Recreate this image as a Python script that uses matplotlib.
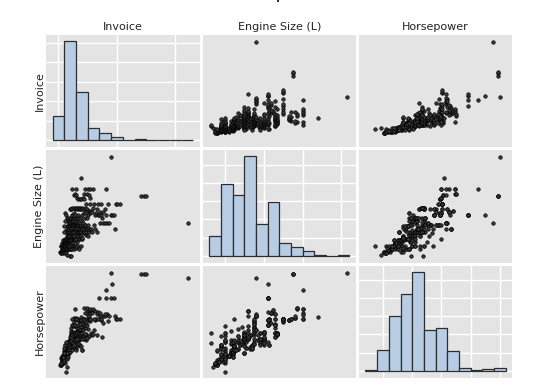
import numpy as np
import matplotlib
matplotlib.use("Agg")
import matplotlib.pyplot as plt
from matplotlib.ticker import MultipleLocator
from matplotlib.font_manager import FontProperties

# values (one entry per car, same order in all three lists)
invoice = [
    9900, 10100, 10300, 10600, 11300, 11900, 12200, 12600, 13200, 13800,
    14500, 15200, 16100, 17300, 17600, 18800, 22200, 23800, 10800, 11200,
    11600, 12100, 12400, 12800, 13100, 13400, 13500, 13700, 14000, 14200,
    14500, 14900, 15100, 15300, 15600, 15900, 16200, 16500, 16700, 16900,
    17200, 17600, 17900, 18000, 18400, 18700, 19100, 19500, 19700, 19900,
    20300, 20700, 21100, 21400, 21600, 22100, 22600, 23100, 23700, 24300,
    24900, 25600, 26400, 26900, 27800, 28600, 29400, 30200, 31300, 32600,
    34100, 35900, 13900, 14800, 15500, 16100, 16700, 17300, 17800, 18300,
    18800, 19300, 19600, 19800, 20400, 20900, 21200, 21500, 22000, 22600,
    23200, 23800, 24000, 24500, 25100, 25800, 26500, 26900, 27200, 28000,
    28900, 29200, 29700, 30600, 31600, 32700, 33200, 33900, 35200, 36600,
    37400, 38200, 40100, 42300, 45200, 16900, 17500, 18100, 18600, 19200,
    19700, 19800, 20200, 20800, 21000, 21300, 21900, 22000, 22400, 22900,
    23400, 23900, 24200, 24500, 25000, 25300, 25600, 26100, 26400, 26700,
    27200, 27800, 28300, 28600, 28900, 29400, 29800, 30000, 30600, 31000,
    31100, 31700, 32200, 32800, 33300, 33500, 33900, 34500, 35000, 35600,
    36200, 36800, 37000, 37400, 38000, 38600, 39300, 40000, 40700, 41500,
    42000, 42300, 43200, 44100, 45000, 46000, 47100, 48300, 49600, 51000,
    52700, 54500, 57000, 80400, 17900, 18700, 19500, 20300, 21100, 21800,
    22600, 23300, 24100, 24900, 25700, 26500, 27300, 28100, 28900, 29800,
    30700, 31600, 32600, 33700, 34900, 36100, 37500, 39000, 41200, 43800,
    61000, 63300, 64500, 67100, 70000, 72200, 22500, 23000, 23400, 24300,
    25200, 26100, 26900, 27700, 28400, 29200, 30000, 30800, 31600, 32400,
    33200, 34000, 34800, 35600, 36400, 37300, 38200, 39100, 40000, 41000,
    42000, 43000, 44000, 45100, 46200, 47300, 48400, 49600, 50900, 52300,
    53800, 55400, 57000, 58700, 59100, 60500, 62400, 64400, 66600, 69000,
    75400, 76400, 78900, 27300, 29000, 30500, 31300, 33000, 35500, 36000,
    37000, 38500, 39800, 40500, 42000, 43000, 44500, 45000, 47000, 47500,
    48000, 48500, 52000, 53000, 58000, 62000, 69000, 71000, 74500, 80900,
    83000, 87000, 112700, 117800, 119200, 173560, 24500, 30000, 15800, 16400,
    17200, 14300, 15000,
]
engine_size = [
    1.6, 1.5, 1.6, 1.6, 1.5, 1.7, 1.6, 1.6, 1.7, 1.5,
    1.7, 1.6, 1.5, 1.6, 2.0, 1.4, 1.3, 1.3, 2.0, 2.0,
    1.8, 2.0, 2.2, 1.8, 2.0, 2.2, 1.9, 1.8, 2.0, 2.0,
    2.2, 1.8, 2.3, 2.0, 2.2, 1.8, 2.0, 2.3, 1.8, 2.0,
    1.8, 2.3, 2.2, 2.0, 2.2, 1.8, 2.3, 2.0, 2.3, 1.8,
    2.0, 2.3, 1.8, 2.0, 2.0, 2.3, 1.8, 2.0, 1.8, 2.3,
    1.8, 2.0, 2.3, 2.0, 1.8, 2.0, 1.9, 2.0, 2.3, 2.0,
    1.8, 2.0, 2.4, 2.4, 2.5, 2.4, 2.4, 2.5, 2.4, 2.7,
    2.5, 2.4, 2.4, 2.7, 2.5, 2.4, 2.7, 2.7, 2.5, 2.4,
    2.8, 2.5, 2.4, 2.7, 2.5, 2.5, 2.8, 2.5, 2.5, 2.7,
    2.5, 2.4, 2.6, 2.5, 2.8, 2.7, 2.9, 2.5, 2.5, 2.7,
    2.5, 2.6, 2.9, 2.8, 2.7, 3.0, 3.1, 3.0, 3.4, 3.0,
    3.1, 3.4, 3.4, 3.0, 3.3, 3.3, 3.5, 3.1, 3.0, 3.4,
    3.5, 3.3, 3.5, 3.0, 3.5, 3.0, 3.4, 3.5, 3.0, 3.3,
    3.0, 3.5, 3.5, 3.2, 3.3, 3.5, 3.5, 3.0, 3.2, 3.0,
    3.5, 3.3, 3.0, 3.5, 3.2, 3.5, 3.0, 3.5, 3.2, 3.0,
    3.5, 3.0, 3.4, 3.3, 3.2, 3.0, 3.5, 3.0, 3.2, 3.5,
    3.5, 3.2, 3.0, 3.2, 3.5, 3.2, 3.0, 3.2, 3.2, 3.0,
    3.5, 3.2, 3.0, 3.2, 3.8, 4.0, 3.8, 4.0, 3.8, 4.0,
    3.7, 3.8, 4.0, 3.8, 4.0, 3.8, 4.0, 3.7, 3.8, 4.0,
    3.8, 4.0, 3.7, 4.0, 3.6, 4.0, 3.8, 3.6, 4.0, 4.0,
    3.6, 4.0, 3.6, 3.6, 3.6, 3.6, 4.6, 4.6, 4.6, 4.2,
    4.7, 4.2, 4.7, 4.3, 4.6, 4.2, 4.7, 4.6, 4.7, 4.2,
    4.6, 4.7, 4.6, 4.7, 4.6, 4.2, 4.7, 4.6, 4.3, 4.6,
    4.7, 4.3, 4.6, 4.2, 4.5, 4.4, 4.3, 4.5, 4.4, 4.7,
    4.2, 4.3, 4.6, 4.2, 4.2, 4.4, 4.2, 4.4, 4.6, 4.2,
    4.2, 4.2, 4.2, 5.6, 5.7, 5.6, 5.4, 5.3, 5.3, 6.8,
    5.3, 5.4, 5.7, 5.3, 6.0, 5.0, 5.7, 6.0, 5.6, 5.4,
    5.0, 6.0, 6.0, 5.0, 5.0, 5.0, 6.0, 5.0, 8.3, 5.0,
    5.0, 5.0, 5.5, 5.5, 5.5, 3.6, 6.0, 6.0, 3.8, 4.3,
    4.2, 3.0, 3.4,
]
horsepower = [
    103, 108, 104, 103, 108, 117, 124, 115, 127, 110,
    117, 163, 110, 168, 73, 93, 197, 238, 132, 110,
    126, 130, 140, 130, 138, 140, 115, 130, 145, 120,
    140, 130, 150, 148, 140, 142, 138, 160, 150, 160,
    150, 155, 145, 130, 143, 180, 160, 165, 165, 170,
    150, 155, 180, 200, 175, 210, 190, 200, 170, 192,
    225, 240, 197, 271, 189, 210, 170, 240, 250, 210,
    189, 227, 138, 150, 165, 157, 160, 175, 150, 170,
    165, 160, 138, 200, 165, 157, 170, 200, 175, 160,
    190, 184, 173, 200, 165, 184, 193, 180, 192, 228,
    300, 200, 168, 184, 190, 210, 194, 208, 184, 228,
    168, 168, 268, 210, 258, 155, 175, 155, 180, 201,
    175, 170, 185, 200, 170, 180, 194, 200, 210, 185,
    250, 230, 232, 240, 200, 190, 190, 192, 182, 230,
    210, 287, 240, 215, 225, 265, 215, 220, 270, 245,
    245, 230, 215, 260, 215, 290, 225, 280, 220, 225,
    265, 225, 185, 230, 255, 220, 280, 225, 215, 290,
    260, 221, 235, 333, 300, 221, 225, 333, 240, 232,
    255, 333, 232, 315, 193, 190, 200, 195, 205, 210,
    210, 200, 210, 240, 195, 215, 245, 210, 240, 210,
    215, 245, 232, 235, 255, 245, 215, 255, 217, 217,
    315, 224, 315, 315, 320, 315, 224, 260, 224, 275,
    230, 275, 235, 190, 239, 275, 235, 302, 240, 275,
    239, 240, 280, 235, 239, 294, 240, 302, 300, 275,
    235, 300, 275, 294, 340, 325, 290, 340, 325, 235,
    294, 300, 320, 330, 390, 325, 294, 282, 320, 390,
    390, 450, 390, 305, 345, 305, 300, 295, 295, 310,
    295, 300, 350, 295, 325, 288, 350, 316, 315, 300,
    302, 345, 345, 302, 302, 302, 425, 292, 500, 302,
    302, 302, 493, 493, 493, 477, 300, 300, 190, 190,
    202, 155, 175,
]
assert len(invoice) == len(engine_size) == len(horsepower)

labels = ["Invoice", "Engine Size (L)", "Horsepower"]

# histogram bins and counts
inv_bins = np.arange(0, 180001, 15000)
eng_bins = np.round(np.arange(1.2, 8.41, 0.6), 1)
hp_bins = np.arange(40, 521, 40)
inv_counts = [52, 218, 105, 26, 15, 7, 1, 3, 0, 0, 0, 1]
eng_counts = [23, 84, 71, 117, 37, 63, 15, 10, 6, 1, 0, 1]
hp_counts = [1, 25, 65, 90, 116, 48, 50, 23, 3, 1, 2, 4]

data = [np.array(invoice), np.array(engine_size), np.array(horsepower)]
bins = [inv_bins, eng_bins, hp_bins]
counts = [inv_counts, eng_counts, hp_counts]

# axis ranges: columns (x) and rows (y)
col_lims = [(-8500, 189000), (0.88, 8.75), (18, 541)]
row_lims = [(-15300, 185500), (0.81, 8.77), (46, 529)]
grid_x = [[7500, 82500, 157500], [2, 4, 6, 8], [100, 200, 300, 400, 500]]
grid_y = [10, 5, 5]

W, H = 537, 390
fig = plt.figure(figsize=(W / 100, H / 100), dpi=100)

col_px = [(46, 200), (203, 356), (359, 512)]
row_px = [(35, 147), (150, 263), (266, 378)]

panel_bg = "#e4e4e4"
bar_fill = "#b8cce4"

for i in range(3):
    for j in range(3):
        x0, x1 = col_px[j]
        y0, y1 = row_px[i]
        ax = fig.add_axes([x0 / W, 1 - y1 / H, (x1 - x0) / W, (y1 - y0) / H])
        ax.set_facecolor(panel_bg)
        for s in ax.spines.values():
            s.set_visible(False)
        ax.tick_params(length=0, labelbottom=False, labelleft=False)
        if i == j:
            c = np.array(counts[i], dtype=float)
            pct = c / c.sum() * 100
            b = bins[i]
            ax.bar(b[:-1], pct, width=np.diff(b), align="edge", color=bar_fill,
                   edgecolor="#2e2e2e", linewidth=0.9, zorder=2)
            m = pct.max()
            ax.set_xlim(col_lims[j])
            ax.set_ylim(-0.0707 * m, 1.061 * m)
            ax.set_xticks(grid_x[i])
            ax.yaxis.set_major_locator(MultipleLocator(grid_y[i]))
            ax.set_axisbelow(True)
            ax.grid(True, color="white", linewidth=1.0)
        else:
            ax.plot(data[j], data[i], "o", ls="none", ms=2.5, mfc="#3c3c3c",
                    mec="black", mew=0.5)
            ax.set_xlim(col_lims[j])
            ax.set_ylim(row_lims[i])
            ax.set_xticks([])
            ax.set_yticks([])

# column headers and row labels
for k, lab in enumerate(labels):
    cx = (col_px[k][0] + col_px[k][1]) / 2
    fig.text(cx / W, 1 - 29.5 / H, lab, ha="center", va="baseline",
             fontsize=8, color="#222222")
    cy = (row_px[k][0] + row_px[k][1]) / 2
    fig.text(42.5 / W, 1 - cy / H, lab, ha="center", va="baseline",
             rotation=90, rotation_mode="anchor", fontsize=8, color="#222222")

# title sits above the canvas; only the descender of the "p" shows
title = "Scatterplot Matrix"
fs = 15
renderer = fig.canvas.get_renderer()
w_pre = renderer.get_text_width_height_descent("Scatter", FontProperties(size=fs), ismath=False)[0]
stem = 0.14 * fs * 100 / 72
x_left = 278.5 - w_pre - stem
fig.text(x_left / W, 1 + 1.5 / H, title, ha="left", va="baseline",
         fontsize=fs, color="#222222")

fig.savefig("out.png", dpi=100)
